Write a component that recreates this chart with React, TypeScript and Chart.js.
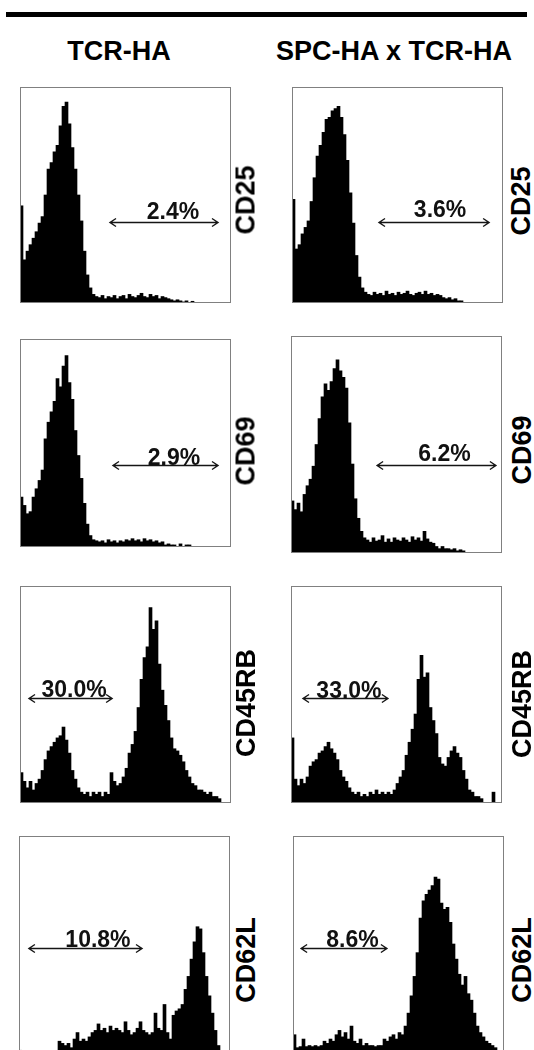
import React, { useEffect, useRef } from 'react';
import { Chart, registerables } from 'chart.js';

Chart.register(...registerables);

// 70 fluorescence channels (log scale bins), shared by every histogram
const CHANNELS = Array.from({ length: 70 }, (_, i) => String(i));

// Event counts per channel, as % of the panel's full scale
const cd25Tcr = [
  45, 20, 24, 27, 30, 33, 37, 40, 50, 62, 65, 70, 73, 82, 91, 93, 83, 72, 62, 50,
  38, 24, 13, 7, 4, 3, 2.5, 3.5, 2, 3, 2.5, 3.5, 2, 3, 3.5, 2, 4, 3, 2.5, 3.5,
  4.5, 3, 2.5, 4, 3, 3.5, 2, 3, 2.5, 2, 1.5, 1, 1.5, 1, 0.5, 1, 0, 0.8, 0, 0,
  0, 0, 0, 0, 0, 0, 0, 0, 0, 0,
];
const cd25Spc = [
  48, 25, 27, 32, 35, 38, 47, 58, 68, 73, 79, 85, 86, 89, 90, 91, 86, 78, 66, 51,
  37, 22, 12, 7, 5, 4, 3.5, 5, 4, 4.5, 3.5, 5.5, 4, 4.5, 3.5, 5, 4, 4.5, 5.5, 4,
  3.5, 4.5, 5, 4, 5.5, 4, 4.5, 3.5, 4, 3.5, 2.5, 2, 2.5, 1.5, 2, 1, 1, 0, 0, 0,
  0, 0, 0, 0, 0, 0, 0, 0, 0, 0,
];
const cd69Tcr = [
  24, 20, 16, 17, 24, 28, 32, 37, 52, 60, 65, 70, 81, 77, 87, 92, 79, 71, 56, 44,
  33, 21, 11, 5.5, 3.5, 3, 2.5, 3, 2, 3.5, 2.5, 3, 2, 3, 2.5, 3.5, 3, 4, 3, 3.5,
  2.5, 4, 3, 3.5, 2.5, 3, 2, 2.5, 1, 1.5, 1, 1, 0, 1.5, 0, 1, 1, 0, 0, 0,
  0, 0, 0, 0, 0, 0, 0, 0, 0, 0,
];
const cd69Spc = [
  24, 20, 23, 19, 27, 31, 34, 40, 50, 62, 72, 78, 75, 79, 85, 89, 84, 81, 76, 60,
  41, 25, 16, 10, 7, 6, 5, 7, 5.5, 6, 8, 5, 6.5, 5, 7, 6, 5.5, 7, 6, 5, 7.5, 6,
  7, 5.5, 10, 6.5, 5, 4.5, 3, 2, 3, 2, 2, 1.5, 2, 1, 1.5, 1, 0, 0,
  0, 0, 0, 0, 0, 0, 0, 0, 0, 0,
];
const cd45rbTcr = [
  14, 10, 7, 10, 6, 9, 11, 15, 20, 24, 26, 28, 30, 31, 35, 29, 23, 15, 11, 7,
  5, 4, 5, 3, 5, 4, 5, 3, 5, 4, 14, 10, 8, 9, 12, 16, 23, 27, 33, 44,
  57, 67, 72, 90, 80, 84, 64, 52, 45, 38, 30, 25, 24, 22, 19, 15, 12, 9, 8, 6,
  6, 5, 4, 5, 3, 3, 2, 0, 0, 0,
];
const cd45rbSpc = [
  30, 11, 8, 11, 9, 12, 17, 19, 20, 23, 24, 26, 28, 25, 23, 20, 15, 12, 10, 7,
  5, 4, 5, 3, 4, 3, 5, 4, 6, 4, 5, 4, 5, 4, 6, 9, 12, 15, 22, 28,
  34, 41, 57, 68, 58, 60, 44, 38, 32, 21, 18, 17, 21, 24, 26, 23, 21, 15, 11, 6,
  5, 3, 3, 2, 0, 0, 0, 5, 0, 0,
];
const cd62lTcr = [
  0.8, 0, 0, 0, 0, 0, 0, 0, 0, 0, 0, 0, 0, 5, 4, 3, 4, 2, 6, 9,
  5, 6, 5, 7, 9, 10, 13, 10, 11, 9, 12, 10, 11, 10, 9, 14, 10, 8, 9, 11,
  14, 10, 9, 8, 9, 18, 11, 10, 22, 9, 6, 17, 19, 20, 22, 29, 35, 43, 51, 58,
  57, 46, 35, 26, 18, 10, 3, 0, 0, 0,
];
const cd62lSpc = [
  8, 2, 2.5, 6, 2.5, 3, 2.5, 3, 2.5, 3, 5, 4, 6, 5, 8, 10, 7, 9, 6, 12,
  5, 4, 6, 3, 4, 3, 3, 2.5, 3, 3, 6, 5, 7, 8, 6, 9, 8, 12, 18, 26,
  35, 46, 62, 70, 73, 75, 77, 81, 80, 69, 66, 67, 60, 50, 43, 36, 31, 35, 27, 24,
  18, 12, 9, 7, 5, 4, 3, 2, 0, 0,
];

const markers = ['CD25', 'CD69', 'CD45RB', 'CD62L'];
const groups = ['TCR-HA', 'SPC-HA x TCR-HA'];
const series = [cd25Tcr, cd25Spc, cd69Tcr, cd69Spc, cd45rbTcr, cd45rbSpc, cd62lTcr, cd62lSpc];

// Gated populations: label, gate start/end channel, and the count level the gate marker sits at
const gatePercent = ['2.4%', '3.6%', '2.9%', '6.2%', '30.0%', '33.0%', '10.8%', '8.6%'];
const gateFrom = [29.5, 28.5, 30.5, 28.2, 2.5, 3.5, 2.8, 2.2];
const gateTo = [65.5, 65.2, 65.5, 67.8, 30.2, 31.8, 40.5, 30.8];
const gateLevel = [37.5, 37.5, 39.4, 40.6, 48.4, 48.4, 48.1, 48.1];

// Panel frames on the page and label placement
const panels = [
  { left: 20, top: 87, width: 211, height: 216, dx: 9, gap: 4, mx: 246, my: 200 },
  { left: 292, top: 87, width: 211, height: 216, dx: 6, gap: 6, mx: 521, my: 201 },
  { left: 20, top: 339, width: 211, height: 208, dx: 8.5, gap: 1, mx: 246, my: 451 },
  { left: 291, top: 336, width: 211, height: 217, dx: 8, gap: 5, mx: 522, my: 450 },
  { left: 20, top: 586, width: 211, height: 217, dx: 3.5, gap: 2, mx: 246, my: 703 },
  { left: 291, top: 586, width: 211, height: 217, dx: 3.5, gap: 1, mx: 522, my: 704 },
  { left: 19, top: 836, width: 211, height: 216, dx: 12.5, gap: 2, mx: 246, my: 960 },
  { left: 293, top: 836, width: 211, height: 216, dx: 8.5, gap: 2, mx: 522, my: 960 },
];

const FONT = '"Liberation Sans", Arial, Helvetica, sans-serif';

const gatePlugin = {
  id: 'gate',
  afterDatasetsDraw(chart: any, _args: any, opts: any) {
    const { ctx } = chart;
    const x = chart.scales.x;
    const y = chart.scales.y;
    const x0 = x.getPixelForValue(opts.from);
    const x1 = x.getPixelForValue(opts.to);
    const yy = Math.round(y.getPixelForValue(opts.level)) + 0.5;
    ctx.save();
    ctx.strokeStyle = '#151515';
    ctx.lineWidth = 1.4;
    ctx.beginPath();
    ctx.moveTo(x0, yy);
    ctx.lineTo(x1, yy);
    ctx.moveTo(x0 + 6, yy - 4);
    ctx.lineTo(x0, yy);
    ctx.lineTo(x0 + 6, yy + 4);
    ctx.moveTo(x1 - 6, yy - 4);
    ctx.lineTo(x1, yy);
    ctx.lineTo(x1 - 6, yy + 4);
    ctx.stroke();
    ctx.fillStyle = '#111';
    ctx.font = `bold 23px ${FONT}`;
    ctx.textAlign = 'center';
    ctx.textBaseline = 'alphabetic';
    ctx.fillText(opts.text, (x0 + x1) / 2 + opts.dx, yy - opts.gap);
    ctx.restore();
  },
  afterDraw(chart: any) {
    const { ctx, width, height } = chart;
    ctx.save();
    ctx.strokeStyle = '#808080';
    ctx.lineWidth = 1;
    ctx.strokeRect(0.5, 0.5, width - 1, height - 1);
    ctx.restore();
  },
};

function Histogram({ index }: { index: number }) {
  const ref = useRef<HTMLCanvasElement | null>(null);
  const p = panels[index];
  useEffect(() => {
    if (!ref.current) return;
    const chart = new Chart(ref.current, {
      type: 'bar',
      data: {
        labels: CHANNELS,
        datasets: [
          {
            data: series[index],
            backgroundColor: '#000000',
            borderWidth: 0,
            barPercentage: 1,
            categoryPercentage: 1,
          },
        ],
      },
      options: {
        animation: false,
        responsive: false,
        maintainAspectRatio: false,
        devicePixelRatio: 1,
        events: [],
        layout: { padding: { left: 0, right: 1, top: 0, bottom: 0 } },
        scales: {
          x: { display: false },
          y: { display: false, min: 0, max: 100 },
        },
        plugins: {
          legend: { display: false },
          tooltip: { enabled: false },
          gate: {
            text: gatePercent[index],
            from: gateFrom[index],
            to: gateTo[index],
            level: gateLevel[index],
            dx: p.dx,
            gap: p.gap,
          },
        } as any,
      },
      plugins: [gatePlugin],
    });
    return () => chart.destroy();
  }, [index]);
  return (
    <canvas
      ref={ref}
      width={p.width}
      height={p.height}
      style={{
        position: 'absolute',
        left: p.left,
        top: p.top,
        width: p.width,
        height: p.height,
      }}
    />
  );
}

export default function App() {
  const titleStyle: React.CSSProperties = {
    position: 'absolute',
    top: 38,
    fontFamily: FONT,
    fontWeight: 'bold',
    fontSize: 27,
    lineHeight: '27px',
    whiteSpace: 'nowrap',
    transform: 'translateX(-50%)',
    color: '#000',
  };
  return (
    <div
      style={{
        position: 'absolute',
        left: 0,
        top: 0,
        width: 534,
        height: 1050,
        overflow: 'hidden',
        background: '#fff',
      }}
    >
      <div
        style={{ position: 'absolute', left: 6, top: 12, width: 521, height: 5, background: '#000' }}
      />
      <div style={{ ...titleStyle, left: 119 }}>{groups[0]}</div>
      <div style={{ ...titleStyle, left: 394 }}>{groups[1]}</div>
      {panels.map((p, i) => (
        <React.Fragment key={i}>
          <Histogram index={i} />
          <div
            style={{
              position: 'absolute',
              left: p.mx,
              top: p.my,
              fontFamily: FONT,
              fontWeight: 'bold',
              fontSize: 27,
              lineHeight: '27px',
              whiteSpace: 'nowrap',
              color: '#000',
              transform: 'translate(-50%, -50%) rotate(-90deg)',
            }}
          >
            {markers[Math.floor(i / 2)]}
          </div>
        </React.Fragment>
      ))}
    </div>
  );
}
